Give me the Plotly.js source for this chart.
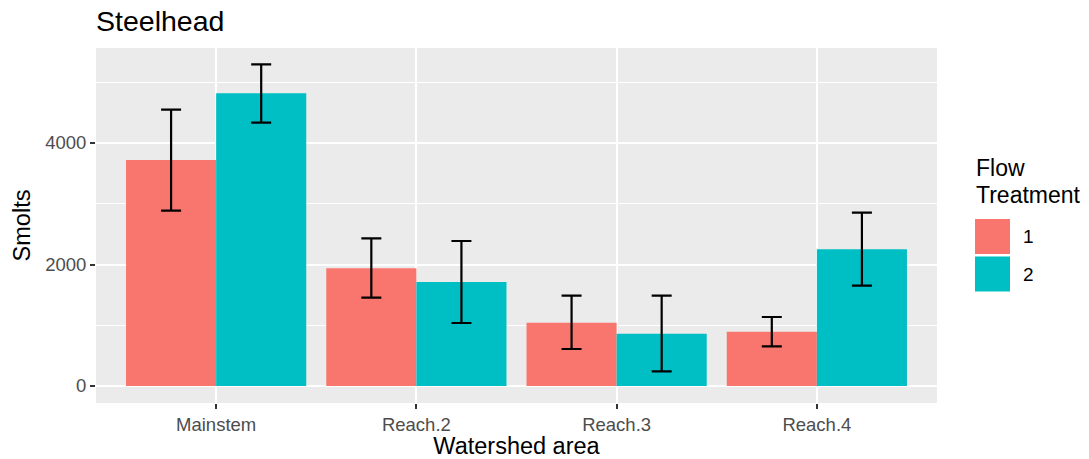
<!DOCTYPE html>
<html><head><meta charset="utf-8">
<script src="https://cdn.plot.ly/plotly-3.0.1.min.js"></script>
<style>body{margin:0;background:#fff}#chart{width:1089px;height:459px}</style>
</head><body><div id="chart"></div>
<script>
const categories = ['Mainstem', 'Reach.2', 'Reach.3', 'Reach.4'];
const treatments = ['1', '2'];
const smolts1 = [3720, 1937, 1042, 894];
const upper1 = [4548, 2431, 1487, 1136];
const lower1 = [2886, 1454, 609, 653];
const smolts2 = [4818, 1712, 861, 2250];
const upper2 = [5295, 2387, 1487, 2853];
const lower2 = [4335, 1037, 241, 1651];
const colors = ['#F8766D', '#00BFC4'];
const legendTitleLines = ['Flow', 'Treatment'];

const FONT = 'Liberation Sans, Arial, sans-serif';
function trace(name, y, up, lo, color) {
  return {
    type: 'bar', name: name, x: categories, y: y,
    marker: {color: color, line: {width: 0}},
    error_y: {
      type: 'data', symmetric: false,
      array: up.map((u, i) => u - y[i]),
      arrayminus: lo.map((l, i) => y[i] - l),
      color: '#000', thickness: 2.2, width: 10
    },
    showlegend: false
  };
}
const data = [
  trace(treatments[0], smolts1, upper1, lower1, colors[0]),
  trace(treatments[1], smolts2, upper2, lower2, colors[1])
];

// plot area in pixels: left 96, right 937, top 48, bottom 403
const PL = 96, PR = 937, PT = 48, PB = 403;
const px = v => (v - PL) / (PR - PL);
const py = v => (PB - v) / (PB - PT);

const shapes = [];
const annotations = [];
legendTitleLines.forEach((t, i) => {
  annotations.push({text: t, xref: 'paper', yref: 'paper',
    x: px(974), y: py(168 + i * 26.5), xanchor: 'left', yanchor: 'middle',
    showarrow: false, font: {family: FONT, size: 23, color: '#000'}});
});
treatments.forEach((t, i) => {
  const top = 219 + i * 37.5;
  shapes.push({type: 'rect', xref: 'paper', yref: 'paper',
    x0: px(975), x1: px(1010), y0: py(top + 35), y1: py(top),
    fillcolor: colors[i], line: {width: 0}});
  annotations.push({text: t, xref: 'paper', yref: 'paper',
    x: px(1021), y: py(top + 17.5), xanchor: 'left', yanchor: 'middle',
    showarrow: false, font: {family: FONT, size: 19, color: '#000'}});
});

const tickFont = {family: FONT, size: 18.5, color: '#4d4d4d'};
const layout = {
  width: 1089, height: 459,
  margin: {l: PL, r: 1089 - PR, t: PT, b: 459 - PB},
  paper_bgcolor: '#fff', plot_bgcolor: '#EBEBEB',
  font: {family: FONT, color: '#000'},
  title: {text: 'Steelhead', x: 0, xanchor: 'left', xref: 'paper',
    y: 1 - 21 / 459, yanchor: 'middle', yref: 'container',
    font: {family: FONT, size: 28.5, color: '#000'}},
  barmode: 'group', bargap: 0.1, bargroupgap: 0,
  xaxis: {
    type: 'category', range: [-0.6, 3.6],
    showgrid: true, gridcolor: '#fff', gridwidth: 2,
    ticks: 'outside', ticklen: 5, tickcolor: '#333', tickwidth: 2,
    tickfont: tickFont, zeroline: false, showline: false,
    title: {text: 'Watershed area', font: {family: FONT, size: 23.5, color: '#000'}, standoff: 2}
  },
  yaxis: {
    range: [-280, 5564],
    tickvals: [0, 2000, 4000], ticktext: ['0', '2000', '4000'],
    showgrid: true, gridcolor: '#fff', gridwidth: 2,
    minor: {tickvals: [1000, 3000, 5000], showgrid: true, gridcolor: '#fff', gridwidth: 1, ticks: ''},
    ticks: 'outside', ticklen: 5, tickcolor: '#333', tickwidth: 2,
    tickfont: tickFont, zeroline: false, showline: false,
    title: {text: 'Smolts', font: {family: FONT, size: 23.5, color: '#000'}, standoff: 7}
  },
  shapes: shapes,
  annotations: annotations,
  showlegend: false
};
Plotly.newPlot('chart', data, layout, {displayModeBar: false, staticPlot: true});
</script></body></html>
